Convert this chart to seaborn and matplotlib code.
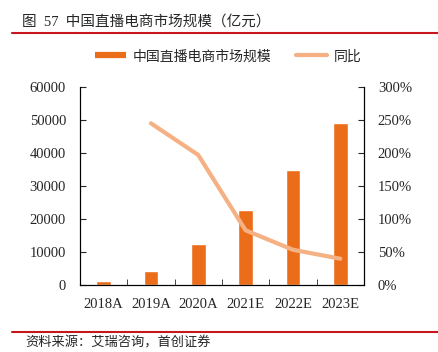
import matplotlib
matplotlib.use("Agg")
import matplotlib.pyplot as plt
from matplotlib.lines import Line2D
from matplotlib.ticker import FuncFormatter, FixedLocator
import seaborn as sns
import pandas as pd
import numpy as np

years = ["2018A", "2019A", "2020A", "2021E", "2022E", "2023E"]
market_size = [1200, 4200, 12400, 22700, 35000, 49000]
yoy = [np.nan, 2.45, 1.97, 0.83, 0.535, 0.40]

bar_color = "#EC6D19"
line_color = "#F5B183"
red = "#C8161D"

sns.set_style("white")
plt.rcParams['font.family'] = ['Liberation Serif', 'Noto Sans CJK SC', 'DejaVu Sans']
plt.rcParams['axes.unicode_minus'] = False

df = pd.DataFrame({"year": years, "size": market_size, "yoy": yoy})
df["pos"] = np.arange(len(df))

fig = plt.figure(figsize=(4.39, 3.52), dpi=100)
ax = fig.add_axes([0.182, 0.19, 0.647, 0.563])
sns.barplot(ax=ax, data=df, x="year", y="size", color=bar_color, width=0.31,
            saturation=1, order=years)
ax.set_ylim(0, 60000)
ax.set_xlim(-0.5, len(years) - 0.5)
ax.set_yticks(np.arange(0, 60001, 10000))
ax.set_xlabel("")
ax.set_ylabel("")

ax2 = ax.twinx()
sns.lineplot(ax=ax2, data=df.dropna(), x="pos", y="yoy", color=line_color, lw=3,
             solid_capstyle="round", solid_joinstyle="round")
ax2.set_ylim(0, 3.0)
ax2.set_yticks(np.arange(0, 3.01, 0.5))
ax2.yaxis.set_major_formatter(FuncFormatter(lambda v, p: f"{v*100:.0f}%"))
ax2.set_ylabel("")
ax2.set_xlabel("")
ax2.set_xlim(-0.5, len(years) - 0.5)

for a in (ax, ax2):
    for s in a.spines.values():
        s.set_color("black")
        s.set_linewidth(0.8)
    a.spines["top"].set_visible(False)

ax.tick_params(axis="y", direction="in", length=4, labelsize=10.5, pad=10, left=True)
ax2.tick_params(axis="y", direction="in", length=4, labelsize=10.5, pad=10, right=True)
ax.tick_params(axis="x", which="major", length=0, labelsize=10.5, pad=9)
ax.xaxis.set_minor_locator(FixedLocator(np.arange(0.5, len(years) - 1, 1)))
ax.tick_params(axis="x", which="minor", direction="in", length=4, bottom=True)

handles = [Line2D([0], [0], color=bar_color, lw=4.5, solid_capstyle="butt"),
           Line2D([0], [0], color=line_color, lw=3, solid_capstyle="round")]
fig.legend(handles, ["中国直播电商市场规模", "同比"], loc="center",
           bbox_to_anchor=(0.52, 0.84), ncol=2, frameon=False,
           prop={"family": ["Noto Sans CJK SC"], "size": 10},
           handlelength=2.2, columnspacing=1.8, handletextpad=0.5)

fig.text(0.05, 0.94, "图  57  中国直播电商市场规模（亿元）", fontsize=10.5,
         family=["Liberation Serif", "Noto Sans CJK SC"], va="center", ha="left")
fig.add_artist(Line2D([0.027, 1.0], [0.905, 0.905], color=red, lw=1.5))
fig.add_artist(Line2D([0.027, 1.0], [0.058, 0.058], color=red, lw=1.5))
fig.text(0.057, 0.025, "资料来源：艾瑞咨询，首创证券", fontsize=9.5, style="italic",
         family=["Noto Sans CJK SC"], va="center", ha="left")

fig.savefig("out.png", dpi=100, facecolor="white")
